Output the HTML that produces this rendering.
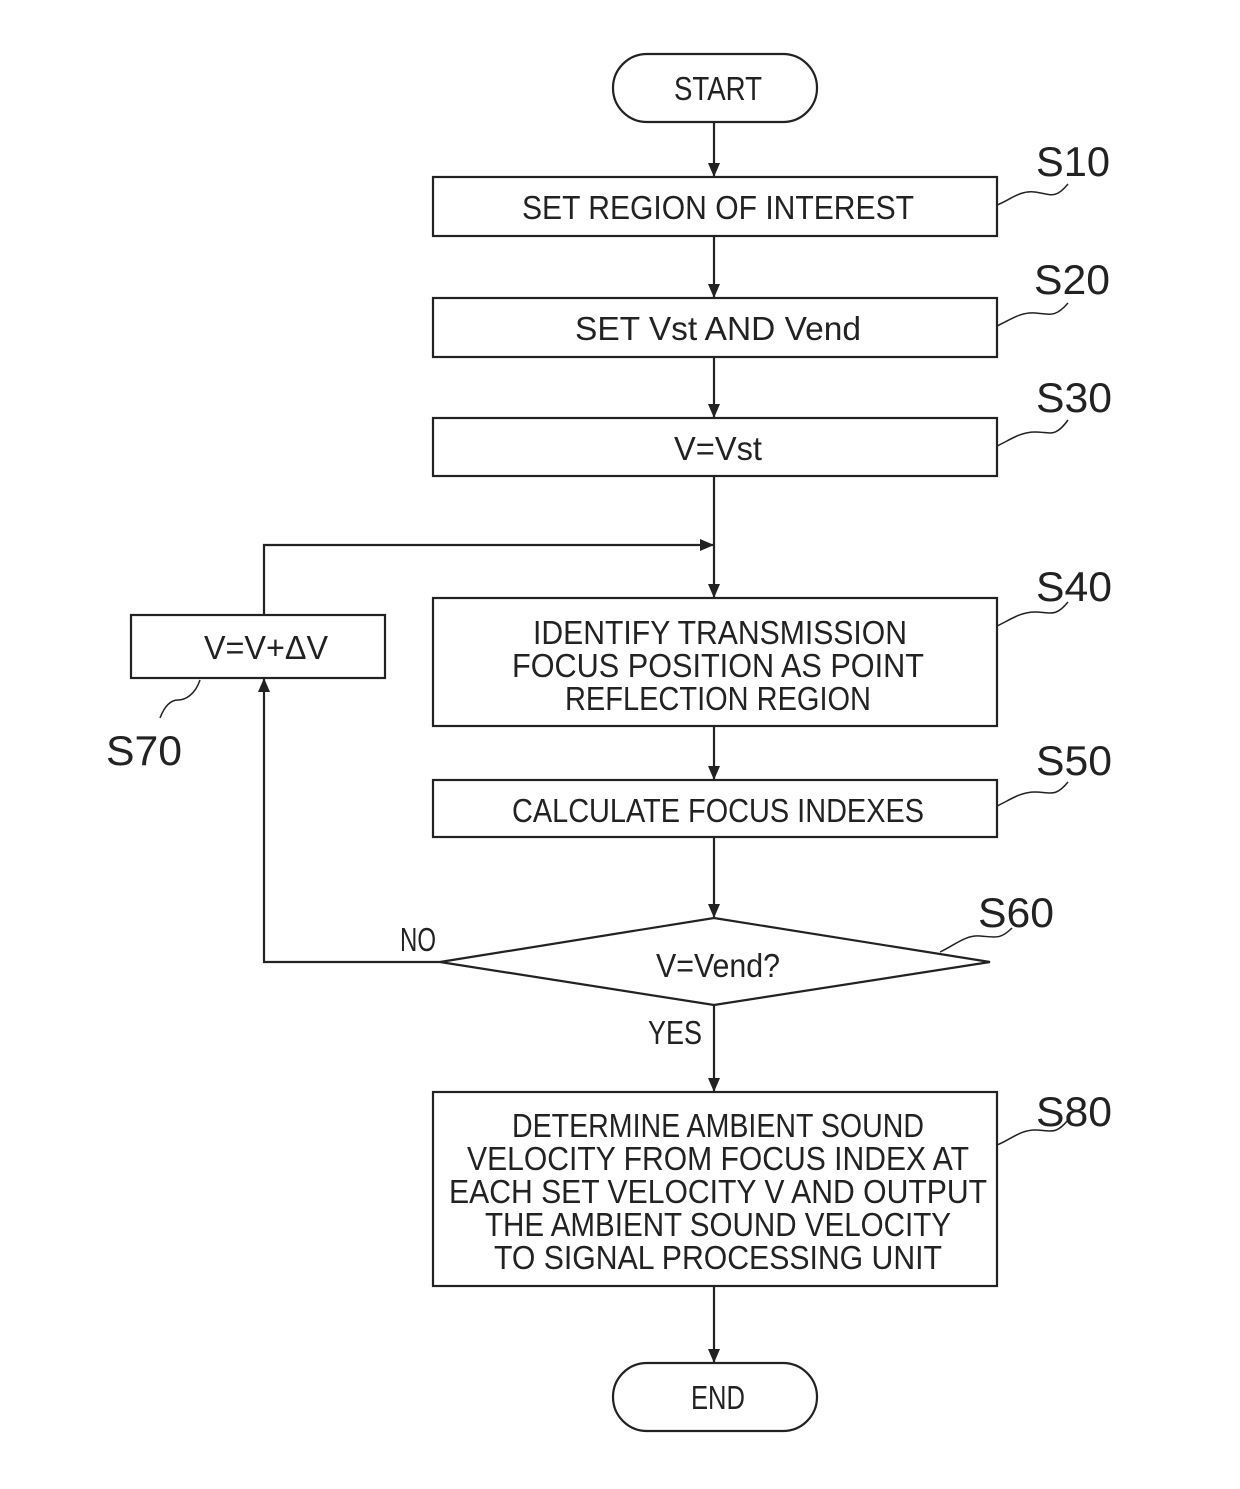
<!DOCTYPE html>
<html><head><meta charset="utf-8"><style>html,body{margin:0;padding:0;background:#fff}</style></head>
<body>
<svg width="1240" height="1484" viewBox="0 0 1240 1484" xmlns="http://www.w3.org/2000/svg" font-family="Liberation Sans, sans-serif" fill="none" stroke="#222" stroke-width="2.2">
<defs><marker id="a" markerWidth="14" markerHeight="12" refX="13" refY="6" orient="auto" markerUnits="userSpaceOnUse"><path d="M0,0 L14,6 L0,12 z" fill="#222" stroke="none"/></marker></defs>
<rect x="613" y="54" width="204" height="68" rx="34"/>
<rect x="613" y="1363" width="204" height="68" rx="34"/>
<rect x="433" y="177" width="564" height="59"/>
<rect x="433" y="298" width="564" height="59"/>
<rect x="433" y="418" width="564" height="58"/>
<rect x="433" y="598" width="564" height="128"/>
<rect x="433" y="780" width="564" height="57"/>
<rect x="433" y="1092" width="564" height="194"/>
<rect x="131" y="615" width="254" height="63"/>
<polygon points="714,918 990,962 714,1005 440,962"/>
<line x1="714" y1="122" x2="714" y2="176" marker-end="url(#a)"/>
<line x1="714" y1="236" x2="714" y2="297" marker-end="url(#a)"/>
<line x1="714" y1="357" x2="714" y2="417" marker-end="url(#a)"/>
<line x1="714" y1="476" x2="714" y2="597" marker-end="url(#a)"/>
<line x1="714" y1="726" x2="714" y2="779" marker-end="url(#a)"/>
<line x1="714" y1="837" x2="714" y2="917" marker-end="url(#a)"/>
<line x1="714" y1="1005" x2="714" y2="1091" marker-end="url(#a)"/>
<line x1="714" y1="1286" x2="714" y2="1362" marker-end="url(#a)"/>
<polyline points="440,962 264,962 264,679" marker-end="url(#a)"/>
<polyline points="264,615 264,545 713,545" marker-end="url(#a)"/>
<g stroke-width="1.5">
<path d="M997,205 C1010,200 1020,190 1035,192 S1055,200 1068,184"/>
<path d="M997,326 C1010,320 1020,312 1035,313 S1055,318 1068,303"/>
<path d="M997,446 C1010,440 1020,432 1035,432 S1055,438 1068,420"/>
<path d="M997,626 C1010,620 1020,612 1035,612 S1055,618 1068,602"/>
<path d="M997,806 C1010,800 1020,792 1035,792 S1055,798 1068,782"/>
<path d="M940,952 C955,945 965,935 980,936 S1000,940 1012,928"/>
<path d="M997,1145 C1010,1140 1020,1130 1035,1130 S1055,1136 1068,1120"/>
<path d="M200,680 C195,695 185,700 178,700 S165,705 160,718"/>
</g>
<g fill="#222" stroke="none" font-size="33" text-anchor="middle">
<text x="718" y="100" textLength="88" lengthAdjust="spacingAndGlyphs">START</text>
<text x="718" y="1409" textLength="54" lengthAdjust="spacingAndGlyphs">END</text>
<text x="718" y="219" textLength="392" lengthAdjust="spacingAndGlyphs">SET REGION OF INTEREST</text>
<text x="718" y="340" textLength="286" lengthAdjust="spacingAndGlyphs">SET Vst AND Vend</text>
<text x="718" y="460" textLength="88" lengthAdjust="spacingAndGlyphs">V=Vst</text>
<text x="720" y="644" textLength="374" lengthAdjust="spacingAndGlyphs">IDENTIFY TRANSMISSION</text>
<text x="718" y="677" textLength="412" lengthAdjust="spacingAndGlyphs">FOCUS POSITION AS POINT</text>
<text x="718" y="710" textLength="306" lengthAdjust="spacingAndGlyphs">REFLECTION REGION</text>
<text x="718" y="822" textLength="412" lengthAdjust="spacingAndGlyphs">CALCULATE FOCUS INDEXES</text>
<text x="718" y="977" textLength="124" lengthAdjust="spacingAndGlyphs">V=Vend?</text>
<text x="266" y="659" textLength="124" lengthAdjust="spacingAndGlyphs">V=V+ΔV</text>
<text x="418" y="951" textLength="36" lengthAdjust="spacingAndGlyphs">NO</text>
<text x="675" y="1044" textLength="54" lengthAdjust="spacingAndGlyphs">YES</text>
<text x="718" y="1137" textLength="412" lengthAdjust="spacingAndGlyphs">DETERMINE AMBIENT SOUND</text>
<text x="718" y="1170" textLength="502" lengthAdjust="spacingAndGlyphs">VELOCITY FROM FOCUS INDEX AT</text>
<text x="718" y="1203" textLength="538" lengthAdjust="spacingAndGlyphs">EACH SET VELOCITY V AND OUTPUT</text>
<text x="718" y="1236" textLength="466" lengthAdjust="spacingAndGlyphs">THE AMBIENT SOUND VELOCITY</text>
<text x="718" y="1269" textLength="448" lengthAdjust="spacingAndGlyphs">TO SIGNAL PROCESSING UNIT</text>
</g>
<g fill="#222" stroke="none" font-size="42">
<text x="1036" y="176" textLength="74" lengthAdjust="spacingAndGlyphs">S10</text>
<text x="1034" y="294" textLength="76" lengthAdjust="spacingAndGlyphs">S20</text>
<text x="1036" y="412" textLength="76" lengthAdjust="spacingAndGlyphs">S30</text>
<text x="1036" y="601" textLength="76" lengthAdjust="spacingAndGlyphs">S40</text>
<text x="1036" y="775" textLength="76" lengthAdjust="spacingAndGlyphs">S50</text>
<text x="978" y="927" textLength="76" lengthAdjust="spacingAndGlyphs">S60</text>
<text x="1036" y="1126" textLength="76" lengthAdjust="spacingAndGlyphs">S80</text>
<text x="106" y="765" textLength="76" lengthAdjust="spacingAndGlyphs">S70</text>
</g>
</svg>
</body></html>
